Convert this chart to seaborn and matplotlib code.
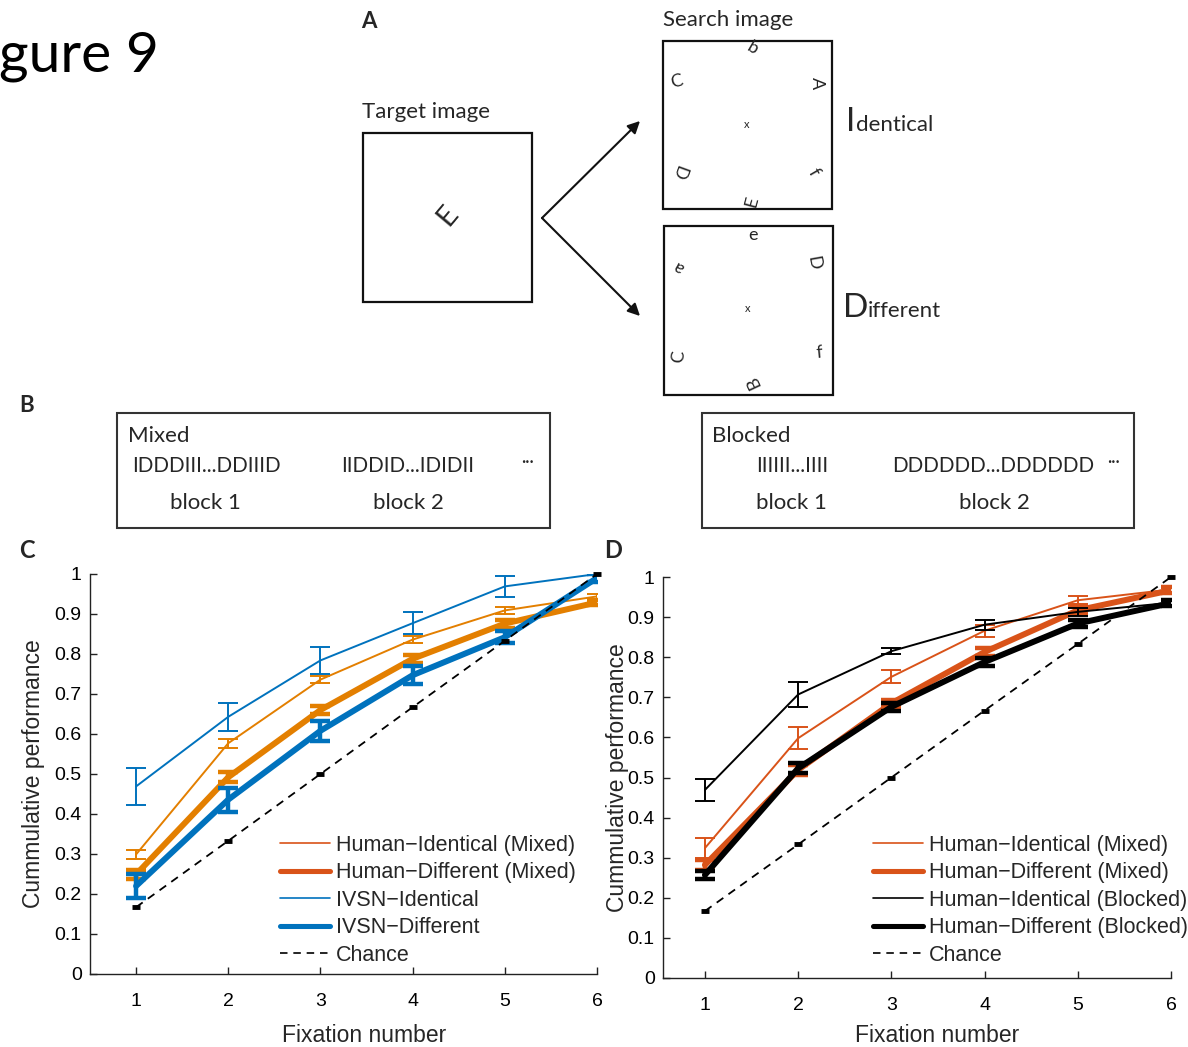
import matplotlib
matplotlib.use("Agg")
import matplotlib.pyplot as plt
from matplotlib.lines import Line2D
from matplotlib.patches import Rectangle
import pandas as pd
import seaborn as sns

# ---------------------------------------------------------------- data
fixation = [1, 2, 3, 4, 5, 6]
chance = [0.167, 0.333, 0.5, 0.667, 0.833, 1.0]

# Panel C: humans (mixed blocks) vs IVSN model
human_ident_mixed_c = [0.299, 0.577, 0.736, 0.836, 0.909, 0.944]
human_ident_mixed_c_err = [0.012, 0.011, 0.009, 0.008, 0.009, 0.006]
human_diff_mixed_c = [0.249, 0.492, 0.660, 0.788, 0.876, 0.929]
human_diff_mixed_c_err = [0.012, 0.012, 0.011, 0.010, 0.010, 0.006]
ivsn_ident = [0.469, 0.643, 0.784, 0.877, 0.969, 1.0]
ivsn_ident_err = [0.046, 0.035, 0.033, 0.028, 0.027, 0.0]
ivsn_diff = [0.220, 0.436, 0.608, 0.747, 0.842, 0.990]
ivsn_diff_err = [0.030, 0.030, 0.025, 0.022, 0.015, 0.010]

# Panel D: humans, mixed vs blocked
human_ident_mixed_d = [0.324, 0.598, 0.751, 0.866, 0.942, 0.969]
human_ident_mixed_d_err = [0.025, 0.027, 0.016, 0.015, 0.010, 0.006]
human_diff_mixed_d = [0.282, 0.519, 0.685, 0.813, 0.917, 0.967]
human_diff_mixed_d_err = [0.012, 0.012, 0.009, 0.010, 0.010, 0.008]
human_ident_blocked = [0.469, 0.707, 0.815, 0.881, 0.913, 0.936]
human_ident_blocked_err = [0.027, 0.032, 0.008, 0.013, 0.010, 0.006]
human_diff_blocked = [0.257, 0.523, 0.676, 0.788, 0.884, 0.935]
human_diff_blocked_err = [0.010, 0.012, 0.010, 0.011, 0.008, 0.007]

y_ticks = [0, 0.1, 0.2, 0.3, 0.4, 0.5, 0.6, 0.7, 0.8, 0.9, 1.0]
y_tick_labels = ["0", "0.1", "0.2", "0.3", "0.4", "0.5", "0.6", "0.7", "0.8", "0.9", "1"]
x_tick_labels = ["1", "2", "3", "4", "5", "6"]

legend_c = ["Human\u2212Identical (Mixed)", "Human\u2212Different (Mixed)",
            "IVSN\u2212Identical", "IVSN\u2212Different", "Chance"]
legend_d = ["Human\u2212Identical (Mixed)", "Human\u2212Different (Mixed)",
            "Human\u2212Identical (Blocked)", "Human\u2212Different (Blocked)", "Chance"]

ORANGE = "#E37F00"
RED_ORANGE = "#D95319"
BLUE = "#0072BD"
BLACK = "#000000"

THIN, THICK = 1.4, 4.3
DASH = (0, (4.5, 3.5))

# ---------------------------------------------------------------- figure
sns.set_style("ticks")
plt.rcParams["font.family"] = ["Liberation Sans", "DejaVu Sans"]

W, H = 1188, 1047
fig = plt.figure(figsize=(W / 100, H / 100), dpi=100)

# pixel-space canvas for the schematic panels
cv = fig.add_axes([0, 0, 1, 1])
cv.set_xlim(0, W)
cv.set_ylim(H, 0)
cv.axis("off")

SCHEME = ["Lato", "DejaVu Sans"]


def px_axes(left, top, right, bottom):
    return fig.add_axes([left / W, 1 - bottom / H, (right - left) / W, (bottom - top) / H])


def txt(x, y, s, size=16, ha="left", va="center", rot=0, weight="normal", family=SCHEME):
    cv.text(x, y, s, fontsize=size, ha=ha, va=va, rotation=rot, weight=weight,
            family=family, rotation_mode="anchor")


# title fragment
cv.text(-1, 72, "gure 9", fontsize=41, family=SCHEME, ha="left", va="baseline",
        color="black")

# ---------------- panel A
txt(369, 22, "A", size=16, ha="center", weight="bold")
txt(362, 112, "Target image", size=16)
txt(663, 20, "Search image", size=16)

for (x0, y0, x1, y1) in [(363, 133, 532, 302), (663, 41, 832, 209), (664, 226, 833, 395)]:
    cv.add_patch(Rectangle((x0, y0), x1 - x0, y1 - y0, fill=False, lw=1.6, ec="#111111"))

txt(448, 215, "E", size=21, ha="center", rot=50)

for tip in [(640, 121), (640, 316)]:
    cv.annotate("", xy=tip, xytext=(542, 218),
                arrowprops=dict(arrowstyle="-|>", lw=1.5, color="#111111",
                                mutation_scale=18, shrinkA=0, shrinkB=0))

identical_letters = [("b", 753, 48, -30), ("C", 677, 82, 15), ("A", 817, 83, -90),
                     ("D", 679, 172, -110), ("f", 813, 172, -60), ("E", 752, 202, 75)]
different_letters = [("e", 753, 235, 0), ("a", 679, 267, 150), ("D", 813, 263, -80),
                     ("C", 679, 357, 85), ("f", 819, 353, 5), ("B", 753, 382, 115)]
for s, x, y, r in identical_letters + different_letters:
    txt(x, y, s, size=13, ha="center", rot=r)
txt(747, 124, "x", size=8, ha="center")
txt(748, 309, "x", size=8, ha="center")

cv.text(846, 131, "I", fontsize=24, family=SCHEME, va="baseline")
cv.text(856, 131, "dentical", fontsize=16, family=SCHEME, va="baseline")
cv.text(843, 317, "D", fontsize=24, family=SCHEME, va="baseline")
cv.text(868, 317, "ifferent", fontsize=16, family=SCHEME, va="baseline")

# ---------------- panel B
txt(27, 405, "B", size=16, ha="center", weight="bold")
for (x0, y0, x1, y1) in [(117, 413, 550, 528), (702, 413, 1134, 528)]:
    cv.add_patch(Rectangle((x0, y0), x1 - x0, y1 - y0, fill=False, lw=1.5, ec="#333333"))

txt(128, 436, "Mixed")
txt(206, 466, "IDDDIII...DDIIID", ha="center", size=14.8)
txt(408, 466, "IIDDID...IDIDII", ha="center", size=14.8)
txt(528, 462, "\u00b7\u00b7\u00b7", ha="center", size=12)
txt(205, 503, "block 1", ha="center")
txt(408, 503, "block 2", ha="center")

txt(712, 436, "Blocked")
txt(792, 466, "IIIIII...IIII", ha="center", size=14.8)
txt(993, 466, "DDDDDD...DDDDDD", ha="center", size=14.8)
txt(1113, 462, "\u00b7\u00b7\u00b7", ha="center", size=12)
txt(791, 503, "block 1", ha="center")
txt(994, 503, "block 2", ha="center")

# ---------------- panels C and D
txt(27, 551, "C", size=17, ha="center", weight="bold")
txt(613, 551, "D", size=17, ha="center", weight="bold")

axC = px_axes(90, 574, 597, 974)
axD = px_axes(663, 577, 1171, 978)


def draw_series(ax, y, err, color, thick):
    lw = THICK if thick else THIN
    df = pd.DataFrame({"fixation": fixation, "performance": y})
    sns.lineplot(data=df, x="fixation", y="performance", ax=ax, color=color,
                 linewidth=lw, errorbar=None, legend=False, zorder=3)
    ax.errorbar(fixation, y, yerr=err, fmt="none", ecolor=color,
                elinewidth=3.2 if thick else 1.4, capsize=7,
                capthick=3.2 if thick else 1.4, zorder=3)


def draw_chance(ax):
    df = pd.DataFrame({"fixation": fixation, "performance": chance})
    sns.lineplot(data=df, x="fixation", y="performance", ax=ax, color=BLACK,
                 linewidth=1.3, linestyle=DASH, errorbar=None, legend=False, zorder=4)
    ax.plot(fixation, chance, linestyle="none", marker="_", markersize=6,
            markeredgewidth=3.5, color=BLACK, zorder=4, clip_on=False)


def style_axes(ax, xmin, ylabel_x, xlabel_y):
    ax.set_xlim(xmin, 6)
    ax.set_ylim(0, 1)
    ax.set_xticks(fixation)
    ax.set_xticklabels(x_tick_labels)
    ax.set_yticks(y_ticks)
    ax.set_yticklabels(y_tick_labels)
    ax.set_facecolor("none")
    sns.despine(ax=ax)
    for sp in ("left", "bottom"):
        ax.spines[sp].set_color("#222222")
        ax.spines[sp].set_linewidth(1.0)
    ax.tick_params(direction="in", length=5, width=1, labelsize=14, colors="#222222",
                   labelcolor="black")
    ax.tick_params(axis="x", pad=14)
    ax.tick_params(axis="y", pad=6)
    ax.set_xlabel("Fixation number", fontsize=16.5)
    ax.set_ylabel("Cummulative performance", fontsize=16.5)
    ax.xaxis.set_label_coords(0.54, xlabel_y)
    ax.xaxis.label.set_va("center")
    ax.yaxis.set_label_coords(ylabel_x, 0.5)
    ax.yaxis.label.set_va("center")


draw_series(axC, human_ident_mixed_c, human_ident_mixed_c_err, ORANGE, False)
draw_series(axC, human_diff_mixed_c, human_diff_mixed_c_err, ORANGE, True)
draw_series(axC, ivsn_ident, ivsn_ident_err, BLUE, False)
draw_series(axC, ivsn_diff, ivsn_diff_err, BLUE, True)
draw_chance(axC)
style_axes(axC, 0.5, -0.112, -0.155)

draw_series(axD, human_ident_mixed_d, human_ident_mixed_d_err, RED_ORANGE, False)
draw_series(axD, human_diff_mixed_d, human_diff_mixed_d_err, RED_ORANGE, True)
draw_series(axD, human_ident_blocked, human_ident_blocked_err, BLACK, False)
draw_series(axD, human_diff_blocked, human_diff_blocked_err, BLACK, True)
draw_chance(axD)
style_axes(axD, 0.55, -0.09, -0.143)


def handles(colors):
    out = []
    for c, w in zip(colors, [THIN, THICK, THIN, THICK]):
        out.append(Line2D([], [], color=c, lw=w * 0.85 if w == THICK else 1.2))
    out.append(Line2D([], [], color=BLACK, lw=1.2, linestyle=DASH))
    return out


legend_kw = dict(loc="upper left", bbox_transform=fig.transFigure, frameon=False,
                 fontsize=15.5, handlelength=2.3, handletextpad=0.3,
                 labelspacing=0.3, borderpad=0, borderaxespad=0)
axC.legend(handles([RED_ORANGE, RED_ORANGE, BLUE, BLUE]), legend_c,
           bbox_to_anchor=(280 / W, 1 - 835 / H), **legend_kw)
axD.legend(handles([RED_ORANGE, RED_ORANGE, BLACK, BLACK]), legend_d,
           bbox_to_anchor=(873 / W, 1 - 835 / H), **legend_kw)

fig.savefig("out.png", dpi=100)
